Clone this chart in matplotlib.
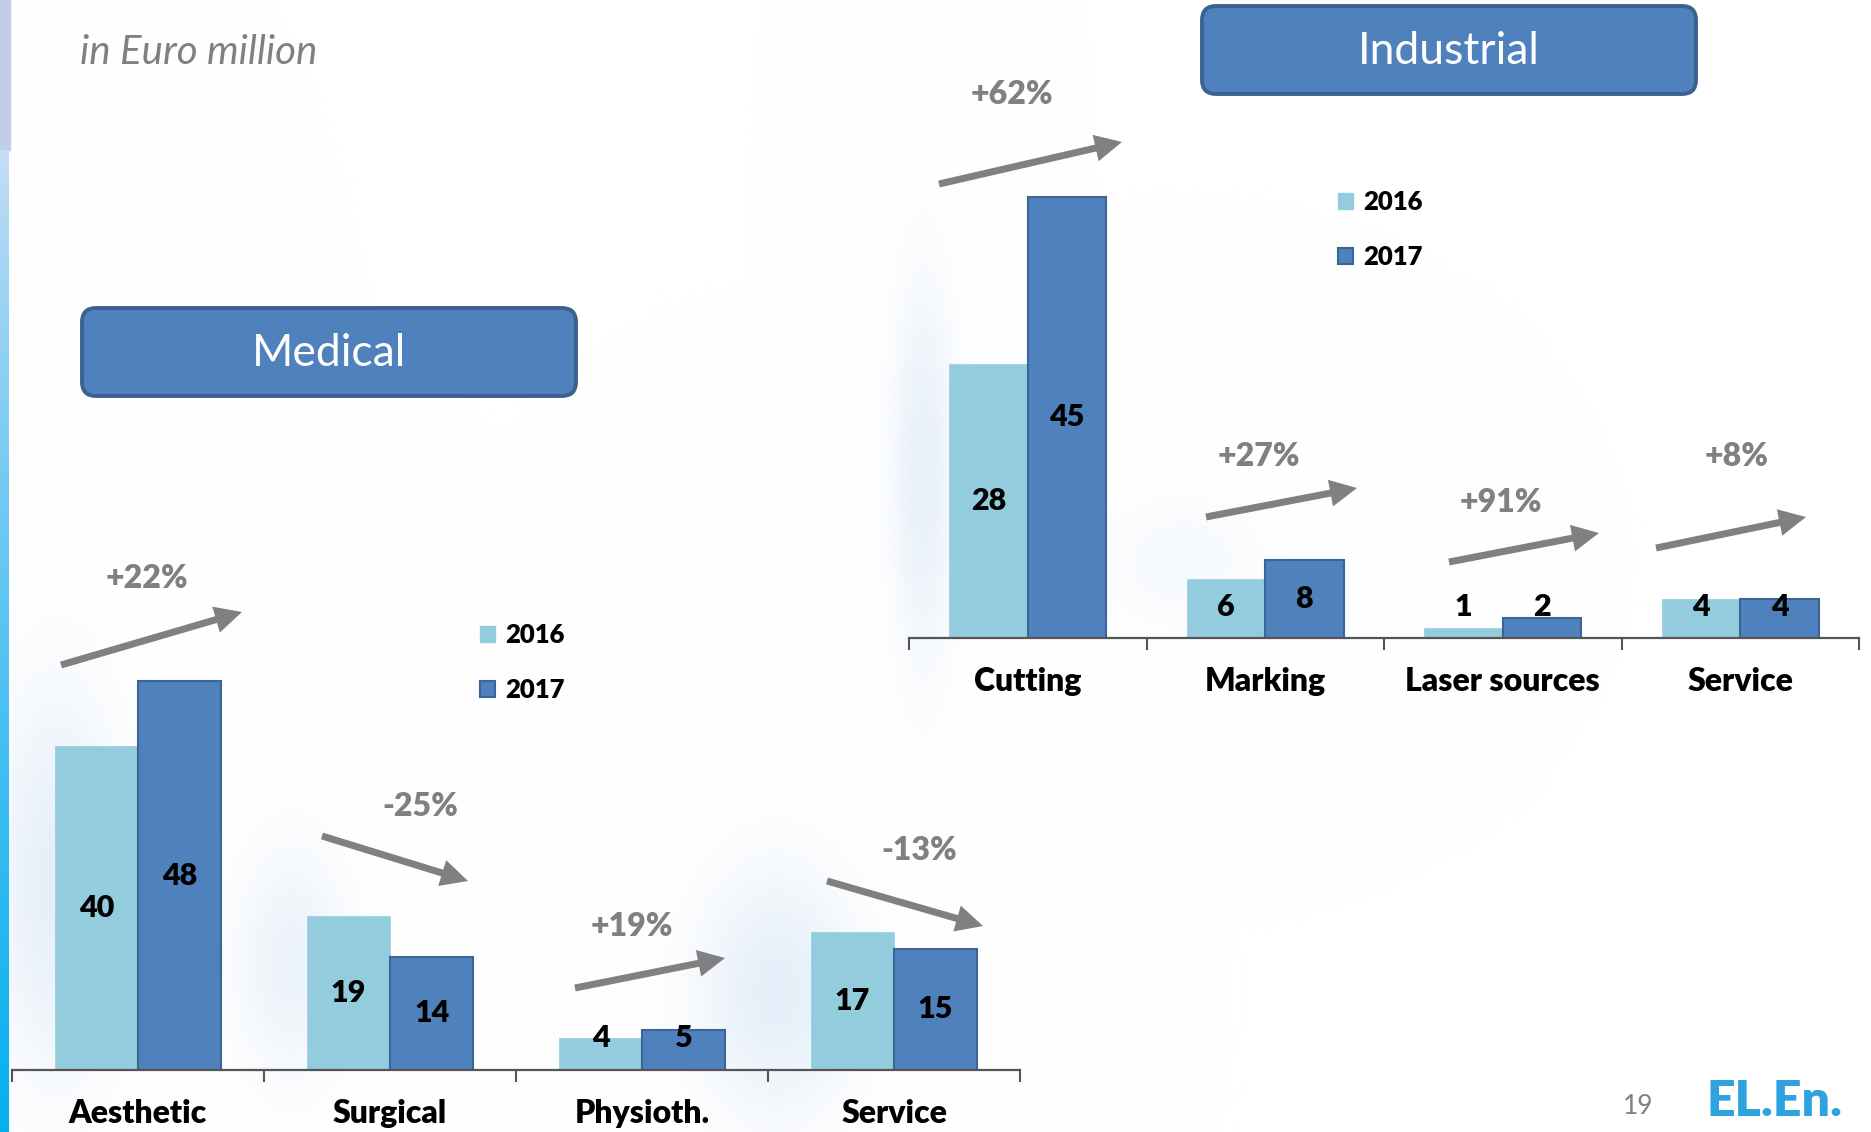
import matplotlib

matplotlib.use("Agg")
import matplotlib.pyplot as plt
import numpy as np
from matplotlib.patches import FancyArrow, FancyBboxPatch, Patch, Rectangle

W, H = 1871, 1132
plt.rcParams["font.family"] = ["Lato", "DejaVu Sans"]

# ----- data (EUR million) -----
years = ["2016", "2017"]

med_cats = ["Aesthetic", "Surgical", "Physioth.", "Service"]
med_2016 = [40, 19, 4, 17]
med_2017 = [48, 14, 5, 15]
med_growth = ["+22%", "-25%", "+19%", "-13%"]

ind_cats = ["Cutting", "Marking", "Laser sources", "Service"]
ind_2016 = [28, 6, 1, 4]
ind_2017 = [45, 8, 2, 4]
ind_growth = ["+62%", "+27%", "+91%", "+8%"]

# ----- layout (figure pixels, origin top-left) -----
med_arrows = [(61, 665, 242, 612), (322, 836, 468, 881),
              (575, 988, 725, 958), (827, 881, 983, 926)]
med_pct_xy = [(147, 579), (420, 807), (632, 927), (919, 851)]
ind_arrows = [(939, 184, 1122, 142), (1206, 517, 1357, 488),
              (1449, 562, 1599, 533), (1656, 548, 1806, 517)]
ind_pct_xy = [(1012, 94), (1259, 457), (1501, 502), (1737, 457)]

C16, C17, C17_EDGE = "#93cddd", "#4f81bd", "#3a6596"
GREY = "#808080"
HEAVY = 800


def px_axes(fig, x0, x1, base, top):
    """Axes spanning pixel columns x0..x1 and rows top..base (from top)."""
    return fig.add_axes([x0 / W, (H - base) / H, (x1 - x0) / W, (base - top) / H])


def draw_bars(ax, cats, v16, v17, px_per_unit, height_px, label_floor):
    x = np.arange(len(cats))
    w = 0.33
    ax.bar(x - w / 2, v16, w, color=C16, edgecolor=C16, linewidth=0.5, zorder=2)
    ax.bar(x + w / 2, v17, w, color=C17, edgecolor=C17_EDGE, linewidth=1.5, zorder=2)
    for xi, a, b in zip(x, v16, v17):
        ax.text(xi - w / 2, max(a / 2, label_floor), str(a), ha="center", va="center",
                fontsize=22, fontweight=HEAVY, color="black", zorder=3)
        ax.text(xi + w / 2, max(b / 2, label_floor), str(b), ha="center", va="center",
                fontsize=22, fontweight=HEAVY, color="black", zorder=3)
    ax.set_xlim(-0.5, len(cats) - 0.5)
    ax.set_ylim(0, height_px / px_per_unit)
    ax.set_facecolor("none")
    for s in ("top", "right", "left"):
        ax.spines[s].set_visible(False)
    ax.spines["bottom"].set_color("#555555")
    ax.spines["bottom"].set_linewidth(1.6)
    ax.set_yticks([])
    ax.set_xticks(x)
    ax.set_xticklabels(cats, fontsize=23, fontweight=HEAVY)
    ax.tick_params(axis="x", which="major", length=0, pad=21)
    ax.set_xticks(np.arange(len(cats) + 1) - 0.5, minor=True)
    ax.tick_params(axis="x", which="minor", length=8.5, width=1.5,
                   color="#555555", direction="out")


def draw_legend(ax, x_px, top_px):
    handles = [Patch(facecolor=C16, edgecolor=C16),
               Patch(facecolor=C17, edgecolor=C17_EDGE, linewidth=1.5)]
    ax.legend(handles, years, loc="upper left",
              bbox_to_anchor=(x_px / W, 1 - top_px / H), bbox_transform=fig.transFigure,
              frameon=False, borderpad=0, borderaxespad=0,
              handlelength=0.6, handleheight=0.6, handletextpad=0.4,
              labelspacing=1.2, prop={"size": 18.5, "weight": HEAVY})


fig = plt.figure(figsize=(W / 100, H / 100), dpi=100)

# background: soft haze behind the bar groups and the left accent strip
bg = fig.add_axes([0, 0, 1, 1], zorder=0)
bg.set_xlim(0, W)
bg.set_ylim(H, 0)
bg.axis("off")
gy, gx = np.mgrid[0:H:4, 0:W:4]
haze = np.zeros(gx.shape)
for cx, cy, sx, sy, k in [(55, 880, 45, 130, 0.38), (290, 960, 40, 80, 0.28),
                          (775, 990, 55, 85, 0.38), (922, 470, 22, 130, 0.35),
                          (1180, 560, 55, 45, 0.14)]:
    haze = np.maximum(haze, k * np.exp(-((gx - cx) ** 2 / (2 * sx ** 2)
                                         + (gy - cy) ** 2 / (2 * sy ** 2))))
img = np.ones(gx.shape + (3,))
tint = np.array([0.74, 0.83, 0.94])
img = img * (1 - haze[..., None]) + tint * haze[..., None]
bg.imshow(img, extent=(0, W, H, 0), interpolation="bilinear", aspect="auto", zorder=0)
bg.add_patch(Rectangle((0, 0), 10, 150, color="#c2cdea", zorder=1))
strip = np.linspace(0, 1, 200)[:, None] ** 0.8
c_top, c_bot = np.array([0.78, 0.87, 0.96]), np.array([0.02, 0.69, 0.94])
strip_rgb = c_top * (1 - strip[..., None]) + c_bot * strip[..., None]
bg.imshow(strip_rgb, extent=(0, 9, H, 150), aspect="auto", zorder=1)

# bar charts
ax_med = px_axes(fig, 12, 1020, 1070, 400)
draw_bars(ax_med, med_cats, med_2016, med_2017, 8.1, 670, 3.95)
ax_ind = px_axes(fig, 909, 1859, 638, 100)
draw_bars(ax_ind, ind_cats, ind_2016, ind_2017, 9.8, 538, 3.2)
draw_legend(ax_med, 480, 623)
draw_legend(ax_ind, 1338, 190)

# overlay: titles, growth arrows, notes
ov = fig.add_axes([0, 0, 1, 1], zorder=5)
ov.set_xlim(0, W)
ov.set_ylim(H, 0)
ov.axis("off")
ov.patch.set_alpha(0)

for (x0, y0, x1, y1), label, (tx, ty) in zip(med_arrows + ind_arrows,
                                             med_growth + ind_growth,
                                             med_pct_xy + ind_pct_xy):
    ov.add_patch(FancyArrow(x0, y0, x1 - x0, y1 - y0, width=7, head_width=27,
                            head_length=27, length_includes_head=True,
                            color=GREY, linewidth=0))
    ov.text(tx, ty, label, ha="center", va="center", fontsize=23,
            fontweight=HEAVY, color=GREY)

for (x0, y0, x1, y1), title in [((82, 308, 576, 396), "Medical"),
                                 ((1202, 6, 1696, 94), "Industrial")]:
    ov.add_patch(FancyBboxPatch((x0, y0), x1 - x0, y1 - y0,
                                boxstyle="round,pad=0,rounding_size=14",
                                facecolor=C17, edgecolor="#3b6190", linewidth=2.8))
    ov.text((x0 + x1) / 2, (y0 + y1) / 2 + 1, title, ha="center", va="center",
            fontsize=32, color="white")

ov.text(80, 52, "in Euro million", ha="left", va="center", fontsize=29,
        fontstyle="italic", color=GREY)
ov.text(1638, 1107, "19", ha="center", va="center", fontsize=19, color=GREY)
ov.text(1775, 1102, "EL.En.", ha="center", va="center", fontsize=36,
        fontweight="heavy", color="#2ea3e0")

fig.savefig("out.png", dpi=100)
